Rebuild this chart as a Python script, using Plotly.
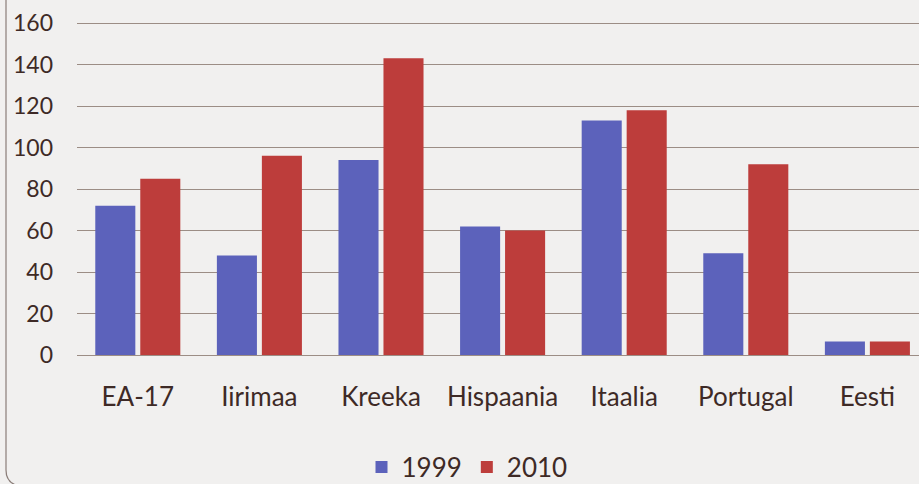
import plotly.graph_objects as go

categories = ["EA-17", "Iirimaa", "Kreeka", "Hispaania", "Itaalia", "Portugal", "Eesti"]
series_names = ["1999", "2010"]
values_1999 = [72, 48, 94, 62, 113, 49, 6.5]
values_2010 = [85, 96, 143, 60, 118, 92, 6.5]
y_ticks = [0, 20, 40, 60, 80, 100, 120, 140, 160]

BLUE = "#5c62bb"
RED = "#bd3d3b"
TEXT = "#3e2a26"
GRID = "#9c8d85"
BG = "#f1f0ef"

fig = go.Figure()
fig.add_trace(go.Bar(x=categories, y=values_1999, name=series_names[0],
                     marker=dict(color=BLUE, line=dict(width=0))))
fig.add_trace(go.Bar(x=categories, y=values_2010, name=series_names[1],
                     marker=dict(color=RED, line=dict(width=0))))

# plot area in pixels: x 77..919, y 21..355 (range 0..161)
L, R, T, B = 77, 919, 21, 355
W, H = R - L, B - T
YMAX = 161
def px(x):
    return (x - L) / W
def py(y):
    return (B - y) / H

frame = (f"M {px(6)},{py(-5)} L {px(6)},{py(470)} "
         f"Q {px(6)},{py(483)} {px(19)},{py(486)}")

fig.update_layout(
    width=919, height=484,
    margin=dict(l=L, r=0, t=T, b=484 - B, pad=0, autoexpand=False),
    paper_bgcolor=BG, plot_bgcolor=BG,
    barmode="group", bargap=0.26, bargroupgap=0.11,
    font=dict(family="Lato, Open Sans, sans-serif", size=26, color=TEXT),
    showlegend=True,
    legend=dict(orientation="h", x=467 / 919, xanchor="center", xref="container",
                y=1 - 467 / 484, yanchor="middle", yref="container",
                bgcolor="rgba(0,0,0,0)", font=dict(size=26, color=TEXT),
                itemwidth=30, tracegroupgap=0),
    xaxis=dict(range=[-0.5, -0.5 + W / 121.6], showgrid=False, zeroline=False,
               showline=False, ticks="", ticklabelstandoff=24, automargin=False,
               tickfont=dict(size=26, color=TEXT)),
    yaxis=dict(range=[0, YMAX], tickvals=y_ticks, showgrid=True, gridcolor=GRID,
               gridwidth=1, zeroline=True, zerolinecolor=GRID, zerolinewidth=1,
               showline=False, ticks="", ticklabelstandoff=23, automargin=False,
               tickfont=dict(size=23, color=TEXT)),
    shapes=[dict(type="path", path=frame, xref="paper", yref="paper",
                 line=dict(color="#8a7d78", width=1.2))],
)

fig.write_html("out.html",
               config={"displayModeBar": False},
               post_script="document.body.style.margin='0';"
                           "document.body.style.background='#f1f0ef';")
